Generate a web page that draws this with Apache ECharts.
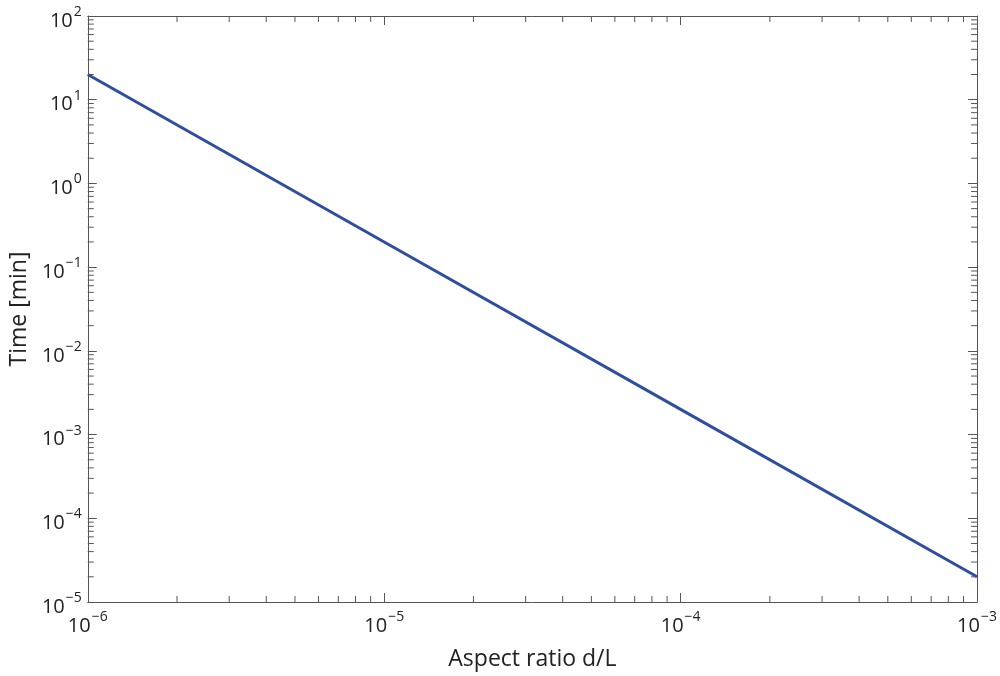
<!DOCTYPE html>
<html>
<head>
<meta charset="utf-8">
<script src="https://cdn.jsdelivr.net/npm/echarts@6/dist/echarts.min.js"></script>
<style>html,body{margin:0;padding:0;background:#fff}#chart{width:1000px;height:676px}</style>
</head>
<body>
<div id="chart"></div>
<script>
// aspect ratio d/L vs time in minutes (slope -2 on log-log)
const aspectRatio = [1e-6, 1e-5, 1e-4, 1e-3];
const timeMin = [20, 0.2, 0.002, 0.00002];
const xDecades = [-6, -5, -4, -3];
const yDecades = [-5, -4, -3, -2, -1, 0, 1, 2];

const chart = echarts.init(document.getElementById('chart'));
const font = '"Open Sans", "Noto Sans", sans-serif';

function powLabel(v) {
  const e = Math.round(Math.log10(v));
  return '{b|10}{s|' + (e < 0 ? '\u2212' + (-e) : e) + '}';
}
const rich = {
  b: { fontSize: 20, fontFamily: font, color: '#222', padding: [10, 0, 0, 0] },
  s: { fontSize: 14, fontFamily: font, color: '#222', padding: [0, 0, 8, 1] }
};

// minor tick positions 2..9 within each decade
const minorX = [], minorY = [];
xDecades.slice(0, -1).forEach(e => { for (let m = 2; m <= 9; m++) minorX.push(m * Math.pow(10, e)); });
yDecades.slice(0, -1).forEach(e => { for (let m = 2; m <= 9; m++) minorY.push(m * Math.pow(10, e)); });

const axisBase = {
  type: 'log', logBase: 10,
  axisLine: { show: true, lineStyle: { color: '#555', width: 1 } },
  axisTick: { show: true, inside: true, length: 9, lineStyle: { color: '#555' } },
  splitLine: { show: false }
};

chart.setOption({
  animation: false,
  backgroundColor: '#fff',
  grid: { left: 83, right: 22, top: 16, bottom: 69 },
  xAxis: [
    Object.assign({}, axisBase, {
      min: 1e-6, max: 1e-3, position: 'bottom',
      name: 'Aspect ratio d/L', nameLocation: 'middle', nameGap: 46,
      nameTextStyle: { fontSize: 23, fontFamily: font, color: '#222' },
      axisLabel: { formatter: powLabel, rich: rich, margin: 4 }
    }),
    Object.assign({}, axisBase, { min: 1e-6, max: 1e-3, position: 'top', axisLabel: { show: false } })
  ],
  yAxis: [
    Object.assign({}, axisBase, {
      min: 1e-5, max: 1e2, position: 'left',
      name: 'Time [min]', nameLocation: 'middle', nameGap: 56,
      nameTextStyle: { fontSize: 23, fontFamily: font, color: '#222' },
      axisLabel: { formatter: powLabel, rich: rich, margin: 6 }
    }),
    Object.assign({}, axisBase, { min: 1e-5, max: 1e2, position: 'right', axisLabel: { show: false } })
  ],
  series: [
    {
      type: 'line',
      data: aspectRatio.map((x, i) => [x, timeMin[i]]),
      showSymbol: false,
      lineStyle: { color: '#2f4ea0', width: 3 },
      z: 3
    },
    {
      type: 'custom',
      silent: true,
      data: minorX.map(v => [v, 'x']).concat(minorY.map(v => [v, 'y'])),
      renderItem: function (params, api) {
        const v = api.value(0);
        const isX = params.dataIndex < minorX.length;
        const len = 6;
        const style = { stroke: '#555', lineWidth: 1 };
        if (isX) {
          const b = api.coord([v, 1e-5]), t = api.coord([v, 1e2]);
          return { type: 'group', children: [
            { type: 'line', shape: { x1: b[0], y1: b[1], x2: b[0], y2: b[1] - len }, style },
            { type: 'line', shape: { x1: t[0], y1: t[1], x2: t[0], y2: t[1] + len }, style }
          ] };
        }
        const l = api.coord([1e-6, v]), r = api.coord([1e-3, v]);
        return { type: 'group', children: [
          { type: 'line', shape: { x1: l[0], y1: l[1], x2: l[0] + len, y2: l[1] }, style },
          { type: 'line', shape: { x1: r[0], y1: r[1], x2: r[0] - len, y2: r[1] }, style }
        ] };
      },
      encode: { x: 0 },
      z: 2
    }
  ]
});
</script>
</body>
</html>
